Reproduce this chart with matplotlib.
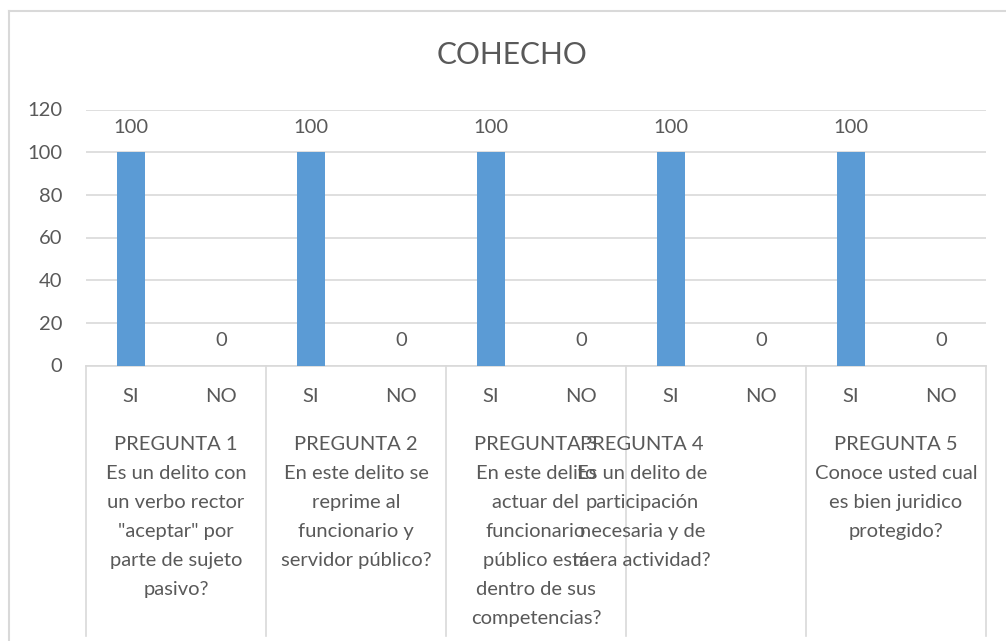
import matplotlib
matplotlib.use("Agg")
import matplotlib.pyplot as plt
from matplotlib.lines import Line2D

# data
groups = [
    "PREGUNTA 1\nEs un delito con\nun verbo rector\n\"aceptar\" por\nparte de sujeto\npasivo?",
    "PREGUNTA 2\nEn este delito se\nreprime al\nfuncionario y\nservidor público?",
    "PREGUNTA 3\nEn este delito\nactuar del\nfuncionario\npúblico está\ndentro de sus\ncompetencias?",
    "PREGUNTA 4\nEs un delito de\nparticipación\nnecesaria y de\nmera actividad?",
    "PREGUNTA 5\nConoce usted cual\nes bien juridico\nprotegido?",
]
answers = ["SI", "NO"]
values = [100, 0, 100, 0, 100, 0, 100, 0, 100, 0]
yticks = [0, 20, 40, 60, 80, 100, 120]
title = "COHECHO"

BAR = "#5B9BD5"
TXT = "#595959"
GRID = "#D9D9D9"

plt.rcParams['font.family'] = ['Lato', 'DejaVu Sans']

W, H = 1006, 641
fig = plt.figure(figsize=(W / 100, H / 100), dpi=100)
fig.patch.set_facecolor("white")

# plot area in pixels: x 86..986, y 109.5..365.5
ax = fig.add_axes([86 / W, (H - 365.5) / H, 900 / W, 256 / H])

x = list(range(len(values)))
ax.bar(x, values, width=0.31, color=BAR, zorder=3)
ax.set_xlim(-0.5, len(values) - 0.5)
ax.set_ylim(0, 120)
ax.set_yticks(yticks)
ax.yaxis.grid(True, color=GRID, linewidth=1.2, zorder=0)
ax.tick_params(axis='y', length=0, pad=17, labelsize=14.5, labelcolor=TXT)
ax.set_xticks([])
for s in ["top", "right", "left"]:
    ax.spines[s].set_visible(False)
ax.spines["bottom"].set_color(GRID)
ax.spines["bottom"].set_linewidth(1.2)

# data labels
for xi, v in zip(x, values):
    ax.annotate(str(v), xy=(xi, v), xytext=(0, 25), textcoords="offset pixels",
                ha="center", va="center", fontsize=14.5, color=TXT)

# SI / NO labels
for xi in x:
    ax.annotate(answers[xi % 2], xy=(xi, 0), xycoords=("data", "axes fraction"),
                xytext=(0, -31), textcoords="offset pixels",
                ha="center", va="center", fontsize=14.5, color=TXT)

# group dividers
trans = ax.get_xaxis_transform()
for g in range(len(groups) + 1):
    ax.plot([2 * g - 0.5, 2 * g - 0.5], [0, -270 / 256], transform=trans,
            color=GRID, linewidth=1.2, clip_on=False)

# group labels (Excel placed the 4th one off-centre)
group_pos = [0.5, 2.5, 4.5, 5.68, 8.5]
for gx, label in zip(group_pos, groups):
    ax.annotate(label, xy=(gx, 0), xycoords=("data", "axes fraction"),
                xytext=(0, -70), textcoords="offset pixels",
                ha="center", va="top", fontsize=14.5, color=TXT,
                linespacing=1.86)

fig.text(512 / W, 1 - 55 / H, title, ha="center", va="center",
         fontsize=21.5, color=TXT)

# chart frame
fig.add_artist(Line2D([9 / W, 1.0], [1 - 11 / H, 1 - 11 / H], color=GRID,
                      linewidth=1.5, transform=fig.transFigure))
fig.add_artist(Line2D([9 / W, 9 / W], [1 - 11 / H, 0], color=GRID,
                      linewidth=1.5, transform=fig.transFigure))

fig.savefig("out.png", dpi=100)
